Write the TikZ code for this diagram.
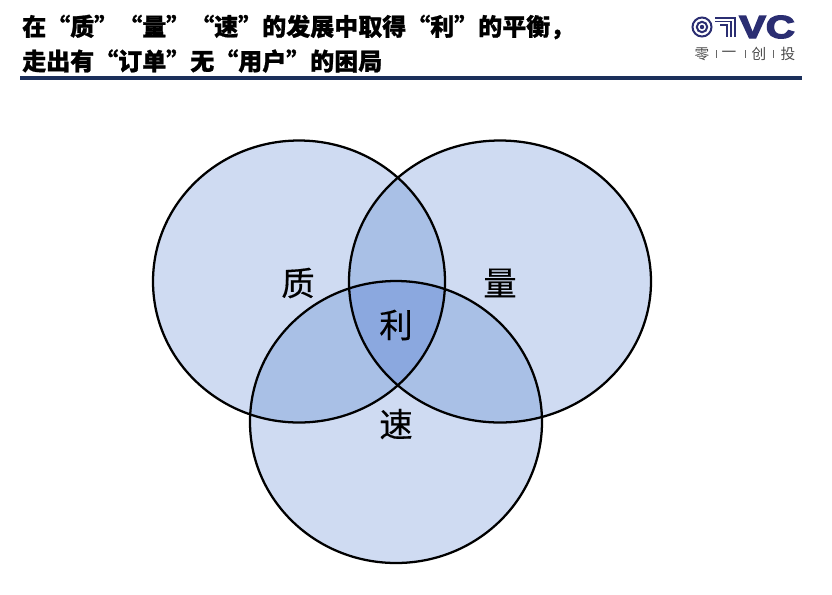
\documentclass[tikz,border=0pt]{standalone}
\usepackage{fontspec}
\usepackage{xcolor}
\setmainfont{Noto Sans CJK SC}
\newfontfamily\latinbold{Liberation Sans}
\definecolor{singleblue}{HTML}{CFDBF2}
\definecolor{doubleblue}{HTML}{A9C0E6}
\definecolor{tripleblue}{HTML}{8BA8DF}
\definecolor{navyline}{HTML}{1B2F5B}
\definecolor{logoblue}{HTML}{2B2E72}
\tikzset{
  titletext/.style={right,inner sep=0pt,font=\fontsize{18}{18}\selectfont\bfseries\addfontfeatures{FakeBold=1},text=black},
  bigword/.style={inner sep=0pt,font=\fontsize{25}{25}\selectfont\addfontfeatures{FakeBold=0.4},text=black},
  logoword/.style={inner sep=0pt,font=\fontsize{11}{11}\selectfont,text=black!70},
  logobar/.style={draw=black!60,line width=0.7pt},
  logostripe/.style={draw=logoblue,line width=1.1pt},
  ring/.style={draw=black,line width=1.7pt}
}
\newcommand{\circleqz}{(299,281.5) ellipse [x radius=146,y radius=141]}
\newcommand{\circleql}{(500,281.5) ellipse [x radius=151,y radius=141]}
\newcommand{\circlesd}{(396,422) ellipse [x radius=146,y radius=141]}
\begin{document}
\begin{tikzpicture}[x=0.75pt,y=-0.75pt]
\useasboundingbox (0,0) rectangle (832,594);
% titolo
\node (title1) at (22,27) [titletext] {在“质”“量”“速”的发展中取得“利”的平衡，};
\node (title2) at (22,61) [titletext] {走出有“订单”无“用户”的困局};
\draw[navyline,line width=2.4pt] (20,78) -- (802,78);

% logo
\draw[logoblue,line width=1.5pt] (702,27) circle [radius=9.5];
\draw[logoblue,line width=1.5pt] (702,27) circle [radius=5.2];
\fill[logoblue] (702,27) circle [radius=2.2];
\draw[logostripe] (715,18) -- (735,18) -- (735,37);
\draw[logostripe] (715,21.5) -- (731,21.5) -- (731,37);
\draw[logostripe] (720,25) -- (727,25) -- (727,37);
\node (logovc) at (767,27) [inner sep=0pt,text=logoblue,xscale=1.25,font=\latinbold\fontsize{24}{24}\selectfont\bfseries\addfontfeatures{FakeBold=4}] {VC};
\node (logo1) at (702,54) [logoword] {零};
\node (logo2) at (729,54) [logoword] {一};
\node (logo3) at (759,54) [logoword] {创};
\node (logo4) at (788,54) [logoword] {投};
\draw[logobar] (716,50) -- (716,58);
\draw[logobar] (745,50) -- (745,58);
\draw[logobar] (773,50) -- (773,58);

% cerchi
\fill[singleblue] \circleqz;
\fill[singleblue] \circleql;
\fill[singleblue] \circlesd;
\begin{scope}
\clip \circleqz;
\fill[doubleblue] \circleql;
\fill[doubleblue] \circlesd;
\end{scope}
\begin{scope}
\clip \circleql;
\fill[doubleblue] \circlesd;
\end{scope}
\begin{scope}
\clip \circleqz;
\clip \circleql;
\fill[tripleblue] \circlesd;
\end{scope}
\draw[ring] \circleqz;
\draw[ring] \circleql;
\draw[ring] \circlesd;

% etichette
\node (zhi) at (298,283) [bigword] {质};
\node (liang) at (500,283) [bigword] {量};
\node (li) at (396,325) [bigword] {利};
\node (su) at (396,424) [bigword] {速};
\end{tikzpicture}
\end{document}
